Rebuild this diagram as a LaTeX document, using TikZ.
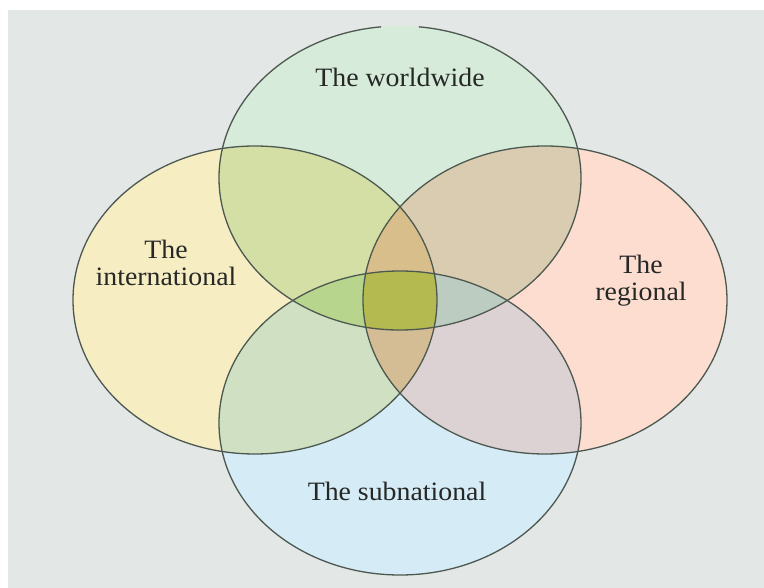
\documentclass[tikz,border=0pt]{standalone}
\usepackage{fontspec}
\setmainfont{Liberation Serif}
\definecolor{bgc}{HTML}{E3E7E5}
\definecolor{cT}{HTML}{D7EBDA}
\definecolor{cL}{HTML}{F6EDC3}
\definecolor{cR}{HTML}{FCDDD0}
\definecolor{cB}{HTML}{D5EBF5}
\definecolor{cTL}{HTML}{D3DFA5}
\definecolor{cTR}{HTML}{D9CCB0}
\definecolor{cBL}{HTML}{D0E1C3}
\definecolor{cBR}{HTML}{DCD2D3}
\definecolor{cLRT}{HTML}{D8BE8A}
\definecolor{cLRB}{HTML}{D4BC95}
\definecolor{cTBL}{HTML}{B8D58E}
\definecolor{cTBR}{HTML}{BCCCC0}
\definecolor{cAll}{HTML}{B5BA50}
\definecolor{edge}{HTML}{4C5850}
\definecolor{txt}{HTML}{262826}
\tikzset{
  outline/.style={draw=edge, line width=1.3pt},
  label/.style={text=txt, align=center, inner sep=0pt, xscale=1.05, font=\fontsize{26.5}{27}\selectfont}
}
\def\PT{(400,178) ellipse [x radius=181pt, y radius=152pt]}
\def\PB{(400,423) ellipse [x radius=181pt, y radius=152pt]}
\def\PL{(255,300) ellipse [x radius=182pt, y radius=154pt]}
\def\PR{(545,300) ellipse [x radius=182pt, y radius=154pt]}
\begin{document}
\begin{tikzpicture}[x=1pt,y=-1pt]
\useasboundingbox (0,0) rectangle (764,588);
\fill[bgc] (8,10) rectangle (764,588);
% base fills
\fill[cT] \PT; \fill[cB] \PB; \fill[cL] \PL; \fill[cR] \PR;
% pairwise
\begin{scope}\clip \PT; \fill[cTL] \PL; \fill[cTR] \PR; \end{scope}
\begin{scope}\clip \PB; \fill[cBL] \PL; \fill[cBR] \PR; \end{scope}
% vertical lens
\begin{scope}\clip \PL; \clip \PR; \fill[cLRT] \PT; \fill[cLRB] \PB; \end{scope}
% horizontal lens
\begin{scope}\clip \PT; \clip \PB; \fill[cTBL] \PL; \fill[cTBR] \PR; \end{scope}
% centre
\begin{scope}\clip \PT; \clip \PB; \clip \PL; \fill[cAll] \PR; \end{scope}
% outlines
\draw[outline] (400,178) ++(96:181pt and 152pt) arc[start angle=96, end angle=444, x radius=181pt, y radius=152pt];
\draw[outline] \PB;
\draw[outline] \PL;
\draw[outline] \PR;
% labels
\node[label] (world) at (400,77) {The worldwide};
\node[label] (inter) at (166,263) {The\\international};
\node[label] (regio) at (641,281) {The\\regional};
\node[label] (subna) at (397,491) {The subnational};
\end{tikzpicture}
\end{document}
